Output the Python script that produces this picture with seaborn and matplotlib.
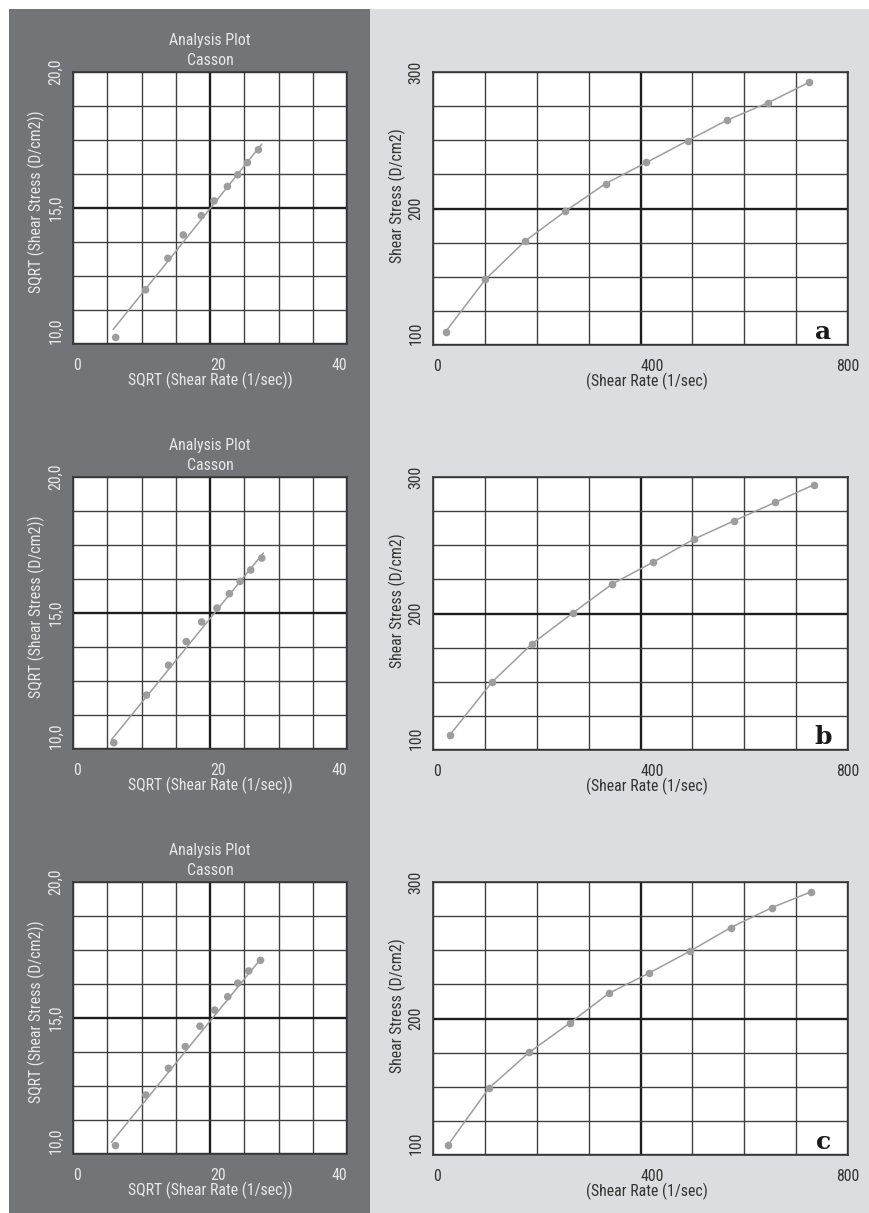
import matplotlib
matplotlib.use("Agg")
import matplotlib.pyplot as plt
from matplotlib.patches import Rectangle
from matplotlib.ticker import MultipleLocator
from matplotlib import font_manager
import seaborn as sns

# ---------------- data ----------------
# Casson analysis: sqrt(shear rate) vs sqrt(shear stress), three samples
casson_rate_a = [6.24, 10.59, 13.85, 16.10, 18.73, 20.59, 22.54, 24.05, 25.46, 27.07]
casson_stress_a = [10.24, 11.99, 13.15, 14.01, 14.72, 15.26, 15.79, 16.22, 16.67, 17.14]
casson_rate_b = [5.95, 10.73, 13.95, 16.54, 18.78, 21.02, 22.83, 24.39, 25.95, 27.56]
casson_stress_b = [10.23, 11.98, 13.08, 13.95, 14.67, 15.18, 15.71, 16.16, 16.58, 17.02]
casson_rate_c = [6.20, 10.63, 13.95, 16.39, 18.54, 20.68, 22.59, 24.05, 25.66, 27.37]
casson_stress_c = [10.31, 12.17, 13.15, 13.95, 14.70, 15.29, 15.78, 16.28, 16.73, 17.12]

# Casson fit lines (end points)
fit_rate_a = [5.85, 27.56]
fit_stress_a = [10.53, 17.35]
fit_rate_b = [5.61, 27.80]
fit_stress_b = [10.34, 17.21]
fit_rate_c = [5.61, 27.56]
fit_stress_c = [10.43, 17.22]

# Flow curves: shear rate (1/sec) vs shear stress (D/cm2)
rate_a = [24.4, 100.9, 177.4, 255.1, 332.9, 411.3, 491.6, 566.2, 646.5, 724.9]
stress_a = [109.8, 148.0, 176.1, 198.0, 218.3, 233.7, 249.8, 264.6, 277.6, 292.4]
rate_b = [32.8, 114.4, 190.9, 269.9, 345.8, 424.2, 502.6, 581.0, 660.0, 734.6]
stress_b = [111.2, 150.0, 177.8, 200.5, 221.7, 237.6, 254.4, 268.0, 281.5, 294.4]
rate_c = [29.6, 107.3, 185.1, 263.5, 339.3, 417.1, 496.1, 573.9, 653.0, 728.2]
stress_c = [107.6, 148.8, 175.1, 196.6, 218.5, 233.4, 249.5, 266.6, 281.2, 292.7]

panel_letters = ["a", "b", "c"]

casson_xticks = [0, 20, 40]
casson_xticklabels = ["0", "20", "40"]
casson_yticks = [10, 15, 20]
casson_yticklabels = ["10,0", "15,0", "20,0"]
flow_xticks = [0, 400, 800]
flow_xticklabels = ["0", "400", "800"]
flow_yticks = [100, 200, 300]
flow_yticklabels = ["100", "200", "300"]

casson_title = "Analysis Plot\nCasson"
casson_xlabel = "SQRT (Shear Rate (1/sec))"
casson_ylabel = "SQRT (Shear Stress (D/cm2))"
flow_xlabel = "(Shear Rate (1/sec)"
flow_ylabel = "Shear Stress (D/cm2)"

# ---------------- style ----------------
sns.set_theme(style="white")

# prefer a condensed sans face when one is installed
entries = font_manager.fontManager.ttflist
names = {f.name for f in entries}
SANS, STRETCH, FS = "Liberation Sans", "normal", 9.8
picked = False
for cand in ["Roboto Condensed", "Liberation Sans Narrow", "Open Sans Condensed",
             "Noto Sans Condensed", "DejaVu Sans Condensed"]:
    if cand in names:
        SANS, STRETCH, FS = cand, "normal", 11.4
        picked = True
        break
if not picked:
    for fam in ["Roboto", "Noto Sans", "Open Sans", "DejaVu Sans"]:
        hits = [f for f in entries if f.name == fam and f.style == "normal"
                and f.stretch in ("condensed", "semi-condensed")
                and f.weight in (400, "normal", "regular")]
        if hits:
            SANS, STRETCH, FS = fam, hits[0].stretch, 11.2
            break
plt.rcParams["font.family"] = [SANS, "DejaVu Sans"]
plt.rcParams["font.stretch"] = STRETCH

W, H = 869, 1213
DARK_BG = "#737478"
LIGHT_BG = "#dcdde0"
LIGHT_TEXT = "#e8e8e8"
DARK_TEXT = "#333333"
MARK = "#9d9d9d"
GRID_MINOR = "#404040"
GRID_MAJOR = "#1e1e1e"

fig = plt.figure(figsize=(W / 100, H / 100), dpi=100, facecolor="white")
fig.add_artist(Rectangle((9 / W, 0), (370 - 9) / W, 1 - 9 / H,
                         transform=fig.transFigure, facecolor=DARK_BG,
                         edgecolor="none", zorder=-10))
fig.add_artist(Rectangle((370 / W, 0), (W - 370) / W, 1 - 9 / H,
                         transform=fig.transFigure, facecolor=LIGHT_BG,
                         edgecolor="none", zorder=-10))


def px_axes(left, top, width, height):
    return fig.add_axes([left / W, 1 - (top + height) / H, width / W, height / H])


def style_axes(ax, xlim, ylim, xticks, xlabels, yticks, ylabels, xminor, yminor,
               text_color, xha):
    ax.set_facecolor("white")
    ax.set_xlim(*xlim)
    ax.set_ylim(*ylim)
    ax.set_xticks(xticks)
    ax.set_xticklabels(xlabels)
    ax.set_yticks(yticks)
    ax.set_yticklabels(ylabels)
    ax.xaxis.set_minor_locator(MultipleLocator(xminor))
    ax.yaxis.set_minor_locator(MultipleLocator(yminor))
    ax.grid(which="minor", color=GRID_MINOR, lw=1.0)
    ax.grid(which="major", color=GRID_MAJOR, lw=1.7)
    ax.set_axisbelow(True)
    ax.tick_params(which="both", length=0, labelsize=FS, labelcolor=text_color)
    ax.tick_params(axis="x", pad=10)
    ax.tick_params(axis="y", pad=7, labelrotation=90)
    for lab, ha in zip(ax.get_xticklabels(), xha):
        lab.set_ha(ha)
    labs = ax.get_yticklabels()
    labs[0].set_va("bottom")
    for lab in labs[1:]:
        lab.set_va("center")
    for sp in ax.spines.values():
        sp.set_color("#3a3a3a")
        sp.set_linewidth(1.2)


casson_sets = [
    (casson_rate_a, casson_stress_a, fit_rate_a, fit_stress_a),
    (casson_rate_b, casson_stress_b, fit_rate_b, fit_stress_b),
    (casson_rate_c, casson_stress_c, fit_rate_c, fit_stress_c),
]
flow_sets = [(rate_a, stress_a), (rate_b, stress_b), (rate_c, stress_c)]

for i in range(3):
    top = 72 + 405 * i

    # Casson analysis plot (left column)
    ax = px_axes(73, top, 274, 272)
    cx, cy, fx, fy = casson_sets[i]
    sns.lineplot(x=fx, y=fy, ax=ax, color=MARK, lw=1.1, sort=False)
    sns.scatterplot(x=cx, y=cy, ax=ax, color=MARK, s=30, edgecolor="none", zorder=3)
    style_axes(ax, (0, 40), (10, 20), casson_xticks, casson_xticklabels,
               casson_yticks, casson_yticklabels, 5, 1.25, LIGHT_TEXT,
               ["left", "left", "right"])
    ax.set_title(casson_title, color=LIGHT_TEXT, fontsize=FS, pad=5, linespacing=1.4)
    ax.set_xlabel(casson_xlabel, color=LIGHT_TEXT, fontsize=FS, labelpad=-1)
    ax.set_ylabel(casson_ylabel, color=LIGHT_TEXT, fontsize=FS, labelpad=2)
    ax.yaxis.label.set_y(0.522)

    # Flow curve (right column)
    ax2 = px_axes(433, top, 415, 273)
    rx, ry = flow_sets[i]
    sns.lineplot(x=rx, y=ry, ax=ax2, color=MARK, lw=1.1, sort=False,
                 marker="o", markersize=5.5, markeredgewidth=0,
                 markerfacecolor=MARK)
    style_axes(ax2, (0, 800), (100, 300), flow_xticks, flow_xticklabels,
               flow_yticks, flow_yticklabels, 100, 25, DARK_TEXT,
               ["left", "left", "center"])
    ax2.set_xlabel(flow_xlabel, color=DARK_TEXT, fontsize=FS, labelpad=-1)
    ax2.xaxis.label.set_x(0.516)
    ax2.set_ylabel(flow_ylabel, color=DARK_TEXT, fontsize=FS, labelpad=2)
    ax2.yaxis.label.set_y(0.546)
    ax2.text(0.94, 0.022, panel_letters[i], transform=ax2.transAxes,
             ha="center", va="baseline", fontsize=18, fontweight="bold",
             family="DejaVu Serif", color="#1a1a1a")

fig.savefig("out.png", dpi=100, facecolor="white")
